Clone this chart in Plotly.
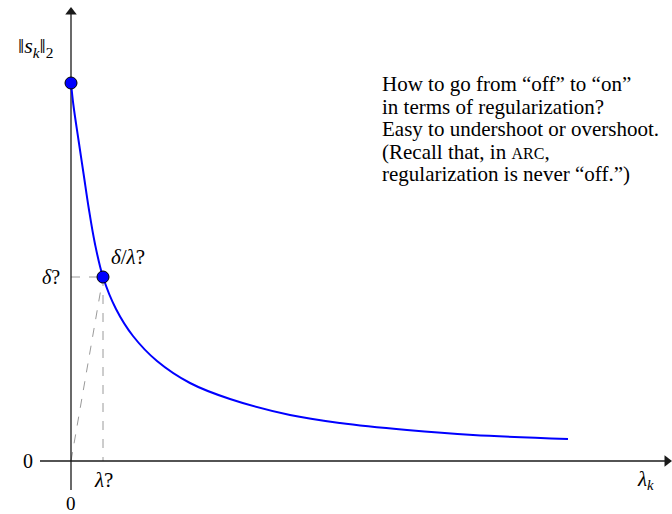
import plotly.graph_objects as go

# Step length ||s_k||_2 as a function of the regularization weight lambda_k
lam = [0.0, 0.24, 0.75, 1.26, 1.77, 2.38, 3.2, 4.5, 6.2, 8.6, 11.9, 15.9, 21.9, 26.9, 33.6, 40.2, 49.7]
step = [37.8, 35.6, 32.1, 28.7, 25.3, 21.8, 18.4, 15.2, 12.5, 10.0, 7.8, 6.2, 4.6, 3.8, 3.1, 2.6, 2.2]

# Highlighted points: "off" (lambda = 0) and the guessed lambda giving delta
mark_lam = [0.0, 3.2]
mark_step = [37.8, 18.4]

note_lines = [
    "How to go from “off” to “on”",
    "in terms of regularization?",
    "Easy to undershoot or overshoot.",
    "(Recall that, in <span style='font-size:16px'>ARC</span>,",
    "regularization is never “off.”)",
]

FONT = "Liberation Serif"
XR = [-7.1, 60.1]
YR = [-5.3, 46.1]

fig = go.Figure()

lam_q, delta_q = mark_lam[1], mark_step[1]

# guide lines to the guessed point
guide = dict(color="#9a9a9a", width=1, dash="dash")
fig.add_trace(go.Scatter(x=[0, lam_q], y=[delta_q, delta_q], mode="lines", line=guide, hoverinfo="skip"))
fig.add_trace(go.Scatter(x=[lam_q, lam_q], y=[delta_q, 0], mode="lines", line=guide, hoverinfo="skip"))
fig.add_trace(go.Scatter(x=[0, lam_q], y=[0, delta_q], mode="lines", line=guide, hoverinfo="skip"))

# axes: lines with triangular heads
axis_col = "#1a1a1a"
fig.add_trace(go.Scatter(x=[-3.1, 59.6], y=[0, 0], mode="lines",
                         line=dict(color=axis_col, width=1.3), hoverinfo="skip"))
fig.add_trace(go.Scatter(x=[0, 0], y=[-2.9, 44.9], mode="lines",
                         line=dict(color=axis_col, width=1.3), hoverinfo="skip"))
fig.add_trace(go.Scatter(x=[59.6], y=[0], mode="markers",
                         marker=dict(symbol="triangle-right", size=10, color=axis_col),
                         hoverinfo="skip"))
fig.add_trace(go.Scatter(x=[0], y=[44.9], mode="markers",
                         marker=dict(symbol="triangle-up", size=10, color=axis_col),
                         hoverinfo="skip"))

# the curve
fig.add_trace(go.Scatter(x=lam, y=step, mode="lines",
                         line=dict(color="#0000ff", width=2, shape="spline", smoothing=1.0),
                         hoverinfo="skip"))

# markers
fig.add_trace(go.Scatter(x=mark_lam, y=mark_step, mode="markers",
                         marker=dict(size=12, color="#0000ff", line=dict(color="black", width=1)),
                         hoverinfo="skip"))

def label(x, y, text, xanchor="center", size=20):
    fig.add_annotation(x=x, y=y, xref="x", yref="y", text=text, showarrow=False,
                       xanchor=xanchor, yanchor="middle",
                       font=dict(family=FONT, size=size, color="black"))

label(-3.6, 41.4, "‖<i>s</i><sub><i>k</i></sub>‖<sub>2</sub>", size=22)
label(-0.9, delta_q, "<i>δ</i>?", xanchor="right")
label(3.8, 20.4, "<i>δ</i>/<i>λ</i>?", xanchor="left", size=21)
label(lam_q, -1.9, "<i>λ</i>?", size=21)
label(-3.6, 0, "0", xanchor="right")
label(0, -4.2, "0", size=19)
label(57.4, -1.9, "<i>λ</i><sub><i>k</i></sub>", size=21)

line_y = [37.7, 35.45, 33.2, 30.95, 28.7]
for txt, yy in zip(note_lines, line_y):
    label(30.9, yy, txt, xanchor="left", size=21)

fig.update_layout(
    width=672, height=514, autosize=False,
    margin=dict(l=0, r=0, t=0, b=0),
    paper_bgcolor="white", plot_bgcolor="white",
    showlegend=False,
    xaxis=dict(range=XR, visible=False, fixedrange=True),
    yaxis=dict(range=YR, visible=False, fixedrange=True),
)

fig.write_html("out.html")
